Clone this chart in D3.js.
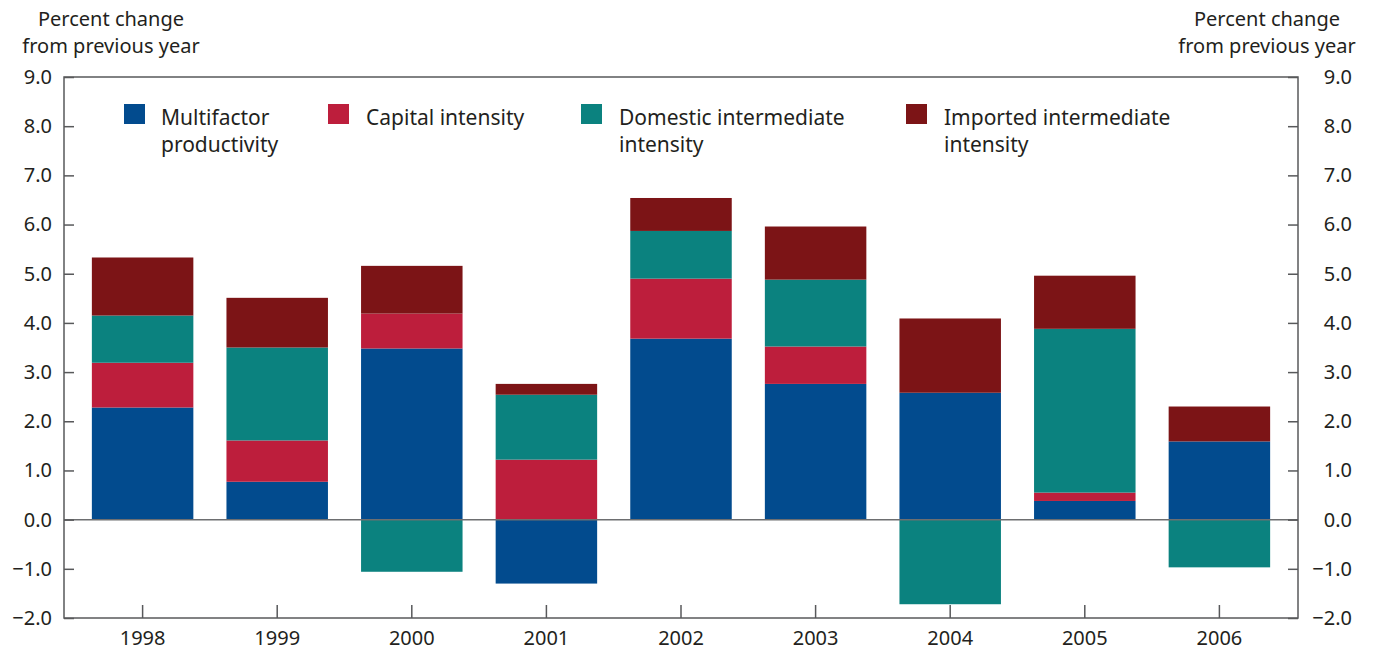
<!DOCTYPE html>
<html>
<head>
<meta charset="utf-8">
<script src="https://cdn.jsdelivr.net/npm/d3@7"></script>
<style>
  body { margin: 0; background: #fff; }
  text { font-family: "Noto Sans", sans-serif; fill: #231f20; }
</style>
</head>
<body>
<svg width="1375" height="652"></svg>
<script>
// Chart data
const years = ["1998", "1999", "2000", "2001", "2002", "2003", "2004", "2005", "2006"];
const multifactor = [2.28, 0.77, 3.48, -1.30, 3.68, 2.76, 2.58, 0.38, 1.59];
const capital = [0.91, 0.84, 0.71, 1.22, 1.22, 0.76, 0.0, 0.17, 0.0];
const domestic = [0.96, 1.89, -1.06, 1.32, 0.97, 1.36, -1.72, 3.33, -0.97];
const imported = [1.18, 1.01, 0.97, 0.22, 0.67, 1.08, 1.51, 1.08, 0.71];
const yTicks = [-2, -1, 0, 1, 2, 3, 4, 5, 6, 7, 8, 9];

const seriesKeys = ["mfp", "cap", "dom", "imp"];
const seriesNames = [
  ["Multifactor", "productivity"],
  ["Capital intensity"],
  ["Domestic intermediate", "intensity"],
  ["Imported intermediate", "intensity"],
];
const colors = ["#024b8e", "#bd1e3c", "#0b827f", "#7c1416"];

const svg = d3.select("svg");

const dims = { left: 64, right: 1298, top: 77, bottom: 618 };

const rows = years.map((y, i) => ({
  year: y,
  mfp: multifactor[i],
  cap: capital[i],
  dom: domestic[i],
  imp: imported[i],
}));

const xScale = d3
  .scaleBand()
  .domain(years)
  .range([dims.left, dims.right])
  .paddingInner(0.246)
  .paddingOuter(0.207);

const yScale = d3.scaleLinear().domain([-2, 9]).range([dims.bottom, dims.top]);

const stacked = d3
  .stack()
  .keys(seriesKeys)
  .offset(d3.stackOffsetDiverging)(rows);

// bars
svg
  .append("g")
  .selectAll("g")
  .data(stacked)
  .join("g")
  .attr("fill", (d, i) => colors[i])
  .selectAll("rect")
  .data((d) => d)
  .join("rect")
  .attr("x", (d) => xScale(d.data.year))
  .attr("width", xScale.bandwidth())
  .attr("y", (d) => yScale(Math.max(d[0], d[1])))
  .attr("height", (d) => Math.abs(yScale(d[0]) - yScale(d[1])));

// zero line
svg
  .append("line")
  .attr("x1", dims.left)
  .attr("x2", dims.right)
  .attr("y1", yScale(0))
  .attr("y2", yScale(0))
  .attr("stroke", "#6d6e70")
  .attr("stroke-width", 1.5);

const fmt = d3.format(".1f");

// axes
const leftAxis = svg
  .append("g")
  .attr("transform", `translate(${dims.left},0)`)
  .call(
    d3.axisLeft(yScale).tickValues(yTicks).tickFormat(fmt).tickSizeInner(-10).tickSizeOuter(0).tickPadding(12)
  );

const rightAxis = svg
  .append("g")
  .attr("transform", `translate(${dims.right},0)`)
  .call(
    d3.axisRight(yScale).tickValues(yTicks).tickFormat(fmt).tickSizeInner(-10).tickSizeOuter(0).tickPadding(12)
  );
rightAxis.selectAll("text").attr("text-anchor", "end").attr("x", 54);

const bottomAxis = svg
  .append("g")
  .attr("transform", `translate(0,${dims.bottom})`)
  .call(d3.axisBottom(xScale).tickSizeInner(-13).tickSizeOuter(0).tickPadding(13));

[leftAxis, rightAxis, bottomAxis].forEach((a) => {
  a.select(".domain").remove();
  a.selectAll("line").attr("stroke", "#58595b").attr("stroke-width", 1.5);
  a.selectAll("text")
    .attr("font-family", "Noto Sans, sans-serif")
    .attr("font-size", 20)
    .attr("fill", "#231f20");
});

// frame
svg
  .append("rect")
  .attr("x", dims.left)
  .attr("y", dims.top)
  .attr("width", dims.right - dims.left)
  .attr("height", dims.bottom - dims.top)
  .attr("fill", "none")
  .attr("stroke", "#58595b")
  .attr("stroke-width", 1.5);

// axis titles
[111, 1267].forEach((cx) => {
  const t = svg
    .append("text")
    .attr("text-anchor", "middle")
    .attr("font-size", 20);
  t.append("tspan").attr("x", cx).attr("y", 26).text("Percent change");
  t.append("tspan").attr("x", cx).attr("y", 53).text("from previous year");
});

// legend
const legendPos = [
  { sx: 124, tx: 161 },
  { sx: 328, tx: 366 },
  { sx: 581, tx: 619 },
  { sx: 906, tx: 944 },
];

const legend = svg
  .append("g")
  .selectAll("g")
  .data(seriesNames)
  .join("g");

legend
  .append("rect")
  .attr("x", (d, i) => legendPos[i].sx)
  .attr("y", 104)
  .attr("width", 21)
  .attr("height", 20)
  .attr("fill", (d, i) => colors[i]);

legend
  .append("text")
  .attr("font-size", 21)
  .each(function (d, i) {
    d3.select(this)
      .selectAll("tspan")
      .data(d)
      .join("tspan")
      .attr("x", legendPos[i].tx)
      .attr("y", (t, j) => 125 + j * 27)
      .text((t) => t);
  });
</script>
</body>
</html>
